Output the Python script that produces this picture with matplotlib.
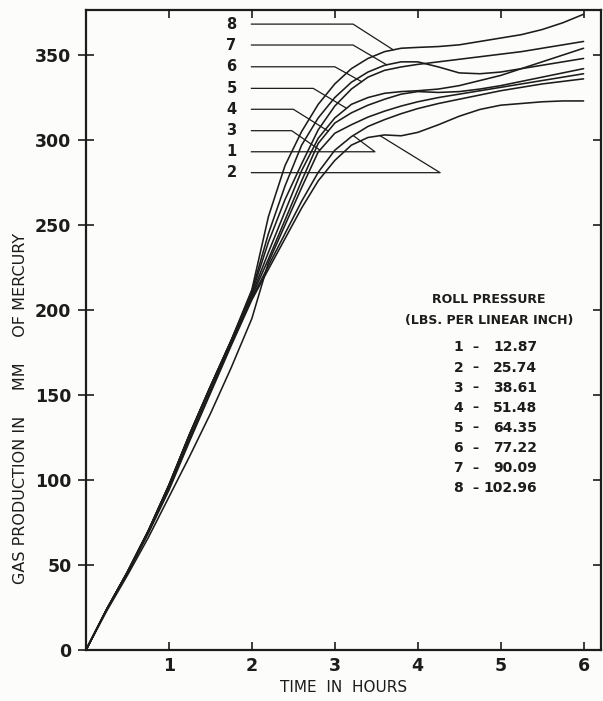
import matplotlib
matplotlib.use("Agg")
import matplotlib.pyplot as plt
import numpy as np

plt.rcParams['font.family'] = ['DejaVu Sans']

# sampling times (hours) shared by every curve
hours = [0, 0.25, 0.5, 0.75, 1.0, 1.25, 1.5, 1.75, 2.0, 2.2, 2.4, 2.6, 2.8,
         3.0, 3.2, 3.4, 3.6, 3.8, 4.0, 4.25, 4.5, 4.75, 5.0, 5.25, 5.5,
         5.75, 6.0]

# gas production (mm Hg) for each roll pressure run
gas_1 = [0, 24, 45.5, 69, 95, 124, 152, 180, 207, 226, 245, 264, 281,
         294, 302, 308, 312, 315.5, 318.5, 321.5, 324, 326.5, 329, 331,
         333, 334.5, 336]
gas_2 = [0, 24, 45, 68.5, 94, 123, 151, 179, 206, 224, 242, 260, 276,
         288, 297, 301.5, 303, 302.5, 304.5, 309, 314, 318, 320.5, 321.5,
         322.5, 323, 323]
gas_3 = [0, 23, 44, 66, 90, 114, 139, 166, 195, 228, 250, 272, 293,
         304, 309, 313.5, 317, 320, 322.5, 325, 327, 329, 331, 333, 335,
         337, 339]
gas_4 = [0, 24, 45.5, 69.5, 95.5, 124.5, 152.5, 180.5, 208, 230, 253, 276,
         298, 310, 316, 320.5, 324, 327, 328.5, 328, 328.5, 330, 332,
         334.5, 337, 339.5, 342]
gas_5 = [0, 24, 46, 70, 97, 127, 155, 182, 209, 234, 258, 282, 301,
         313, 321, 325, 327.5, 328.5, 329, 330, 332, 335, 338, 342, 346,
         350, 354]
gas_6 = [0, 24, 46, 70, 97, 127, 155, 182, 210, 240, 265, 286, 306,
         320, 330, 337, 341, 343, 344.5, 346, 347.5, 349, 350.5, 352,
         354, 356, 358]
gas_7 = [0, 24, 46, 70, 97, 127, 155, 182, 211, 245, 273, 297, 313,
         325, 334, 340, 344, 346, 346, 343, 339.5, 339, 340, 342, 344,
         346, 348]
gas_8 = [0, 24, 46, 70, 97, 127, 155, 182, 212, 255, 285, 305, 321,
         333, 342, 348, 352, 354, 354.5, 355, 356, 358, 360, 362, 365,
         369, 374]

curves = {'1': gas_1, '2': gas_2, '3': gas_3, '4': gas_4,
          '5': gas_5, '6': gas_6, '7': gas_7, '8': gas_8}

run_ids = ['1', '2', '3', '4', '5', '6', '7', '8']
roll_pressure = ['12.87', '25.74', '38.61', '51.48', '64.35', '77.22',
                 '90.09', '102.96']

# curve labels stacked at the upper left, with leader elbows and tips (hours)
label_order = ['8', '7', '6', '5', '4', '3', '1', '2']
label_y = [368.2, 355.9, 343.1, 330.4, 318.1, 305.5, 293.1, 280.8]
elbow_t = [3.22, 3.22, 3.00, 2.74, 2.50, 2.48, 3.484, 4.27]
tip_t = [3.705, 3.626, 3.324, 3.142, 2.921, 2.82, 3.222, 3.545]

ink = '#1c1c1c'
paper = '#fcfcfa'

fig = plt.figure(figsize=(6.03, 7.01), dpi=100)
fig.patch.set_facecolor(paper)
ax = fig.add_axes([86 / 603, 51 / 701, 515 / 603, 640 / 701])
ax.set_facecolor(paper)

for rid in run_ids:
    ax.plot(hours, curves[rid], color=ink, lw=1.15, solid_capstyle='round')

for rid, ly, te, tt in zip(label_order, label_y, elbow_t, tip_t):
    ax.text(1.754, ly, rid, ha='center', va='center', fontsize=10.5,
            fontweight='bold', color=ink)
    tip_v = np.interp(tt, hours, curves[rid])
    ax.plot([1.995, te, tt], [ly, ly, tip_v], color=ink, lw=0.9)

ax.set_xlim(0, 6.21)
ax.set_ylim(0, 376.5)

ax.set_xticks([1, 2, 3, 4, 5, 6])
ax.set_yticks([0, 50, 100, 150, 200, 250, 300, 350])
ax.tick_params(axis='x', which='major', direction='in', length=6, width=1.2,
               top=True, labelsize=12.5, pad=5, colors=ink)
ax.tick_params(axis='y', which='major', direction='inout', length=11, width=1.2,
               right=False, labelsize=12.5, pad=5, colors=ink)
for lab in ax.get_xticklabels() + ax.get_yticklabels():
    lab.set_fontweight('bold')

# right side ticks point inward only
ax_r = ax.secondary_yaxis('right')
ax_r.set_yticks([50, 100, 150, 200, 250, 300, 350])
ax_r.tick_params(direction='in', length=6, width=1.2, labelright=False,
                 colors=ink)
ax_r.spines['right'].set_visible(False)

for s in ax.spines.values():
    s.set_linewidth(1.6)
    s.set_color(ink)

ax.set_xlabel('TIME  IN  HOURS', fontsize=11, color=ink, labelpad=4)
ax.set_ylabel('GAS PRODUCTION IN     MM     OF MERCURY', fontsize=11.5,
              color=ink)
ax.yaxis.set_label_coords(-0.112, 0.377)

# roll pressure key
ax.text(4.86, 206, 'ROLL PRESSURE', ha='center', va='center',
        fontsize=9, fontweight='bold', color=ink)
ax.text(4.86, 194, '(LBS. PER LINEAR INCH)', ha='center', va='center',
        fontsize=9, fontweight='bold', color=ink)
for i, (rid, p) in enumerate(zip(run_ids, roll_pressure)):
    y = 178 - i * 11.85
    ax.text(4.49, y, rid, ha='center', va='center', fontsize=10,
            fontweight='bold', color=ink)
    ax.text(4.70, y, '–', ha='center', va='center', fontsize=9,
            fontweight='bold', color=ink)
    ax.text(5.44, y, p, ha='right', va='center', fontsize=10,
            fontweight='bold', color=ink)

fig.savefig('out.png', dpi=100, facecolor=paper)
